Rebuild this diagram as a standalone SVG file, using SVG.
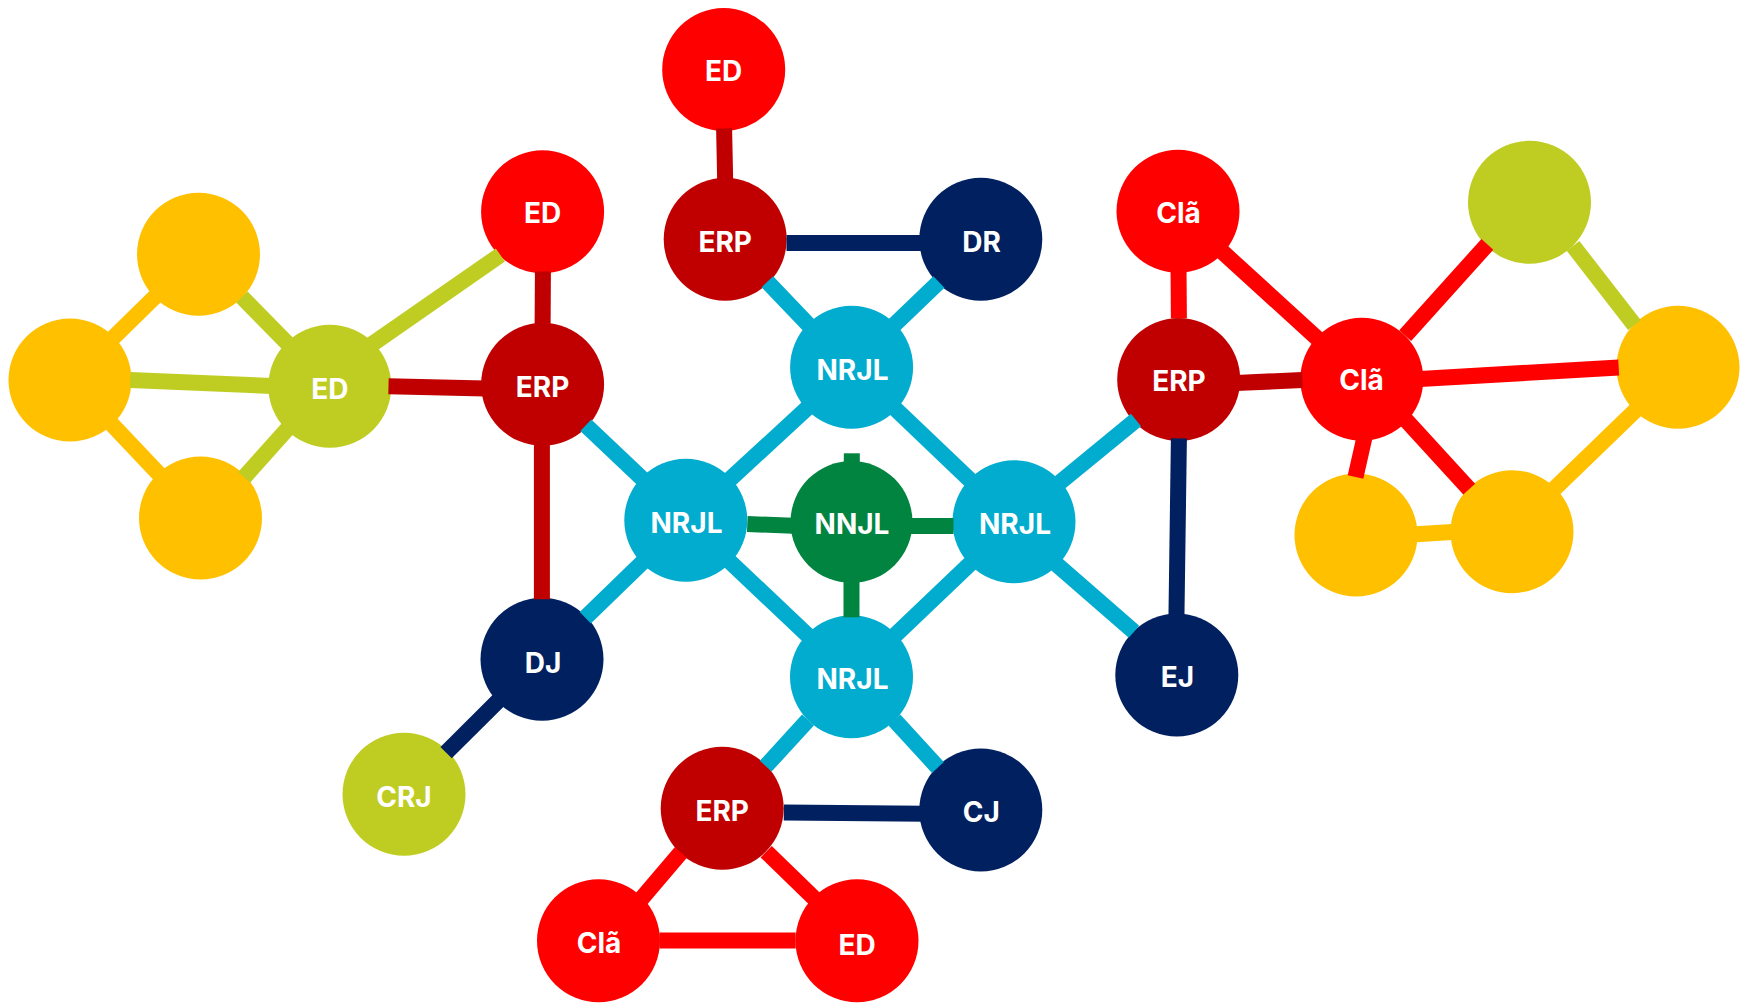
<svg xmlns="http://www.w3.org/2000/svg" width="1740" height="1003" viewBox="0 0 1740 1003">
<style>
.n{stroke:none}
.red{fill:#FF0000}.dred{fill:#C00000}.navy{fill:#002060}.cyan{fill:#01ACCF}.olive{fill:#BFCD23}.grn{fill:#00843F}.yel{fill:#FFC000}
.t{font-family:Inter,"Open Sans","Liberation Sans",sans-serif;font-weight:700;font-size:28px;fill:#FFFFFF;text-anchor:middle}
#connectors line{stroke-width:16;stroke-linecap:butt;fill:none}
.sred{stroke:#FF0000}.sdred{stroke:#C00000}.snavy{stroke:#002060}.scyan{stroke:#01ACCF}.solive{stroke:#BFCD23}.sgrn{stroke:#00843F}.syel{stroke:#FFC000}
</style>
<rect width="1740" height="1003" fill="#FFFFFF"/>
<g id="nodes">
<g id="n-ed-top"><circle class="n red" cx="723.7" cy="69.5" r="61.5"/><text class="t" x="723.7" y="81">ED</text></g>
<g id="n-erp-top"><circle class="n dred" cx="725.2" cy="239.3" r="61.5"/><text class="t" x="725.2" y="252">ERP</text></g>
<g id="n-dr"><circle class="n navy" cx="980.8" cy="239.3" r="61.5"/><text class="t" x="981.5" y="252">DR</text></g>
<g id="n-nrjl-top"><circle class="n cyan" cx="851.6" cy="367.2" r="61.5"/><text class="t" x="852.5" y="380">NRJL</text></g>
<g id="n-ed-left"><circle class="n red" cx="542.6" cy="211.7" r="61.5"/><text class="t" x="542.6" y="223">ED</text></g>
<g id="n-erp-left"><circle class="n dred" cx="542.6" cy="384.3" r="61.5"/><text class="t" x="542.6" y="397">ERP</text></g>
<g id="n-ed-olive"><circle class="n olive" cx="329.8" cy="386.2" r="61.5"/><text class="t" x="329.8" y="399">ED</text></g>
<g id="n-yellow-1"><circle class="n yel" cx="198.5" cy="254.3" r="61.5"/></g>
<g id="n-yellow-2"><circle class="n yel" cx="70" cy="380" r="61.5"/></g>
<g id="n-yellow-3"><circle class="n yel" cx="200.5" cy="518" r="61.5"/></g>
<g id="n-nrjl-left"><circle class="n cyan" cx="685.8" cy="520.2" r="61.5"/><text class="t" x="686.5" y="533">NRJL</text></g>
<g id="n-nnjl"><circle class="n grn" cx="851.5" cy="522" r="61"/><text class="t" x="852" y="534">NNJL</text></g>
<g id="n-nrjl-right"><circle class="n cyan" cx="1014" cy="521.7" r="61.5"/><text class="t" x="1015" y="534">NRJL</text></g>
<g id="n-nrjl-bottom"><circle class="n cyan" cx="851.5" cy="676.7" r="61.5"/><text class="t" x="852.5" y="689">NRJL</text></g>
<g id="n-dj"><circle class="n navy" cx="542" cy="659.2" r="61.5"/><text class="t" x="543" y="672.5">DJ</text></g>
<g id="n-crj"><circle class="n olive" cx="404" cy="794.3" r="61.5"/><text class="t" x="404" y="807">CRJ</text></g>
<g id="n-erp-bottom"><circle class="n dred" cx="722.2" cy="808.3" r="61.5"/><text class="t" x="722.2" y="821">ERP</text></g>
<g id="n-cj"><circle class="n navy" cx="980.8" cy="810" r="61.5"/><text class="t" x="981.4" y="822.3">CJ</text></g>
<g id="n-cla-bottom"><circle class="n red" cx="598.5" cy="940.7" r="61.5"/><text class="t" x="599" y="952.7">Clã</text></g>
<g id="n-ed-bottom"><circle class="n red" cx="857" cy="940.7" r="61.5"/><text class="t" x="857" y="954.5">ED</text></g>
<g id="n-ej"><circle class="n navy" cx="1176.8" cy="675" r="61.5"/><text class="t" x="1177.5" y="687.3">EJ</text></g>
<g id="n-erp-right"><circle class="n dred" cx="1178.7" cy="379.5" r="61.5"/><text class="t" x="1179" y="391">ERP</text></g>
<g id="n-cla-top"><circle class="n red" cx="1178" cy="211.2" r="61.5"/><text class="t" x="1178.5" y="223.3">Clã</text></g>
<g id="n-cla-mid"><circle class="n red" cx="1361.8" cy="379.2" r="61.5"/><text class="t" x="1361.6" y="390">Clã</text></g>
<g id="n-olive-right"><circle class="n olive" cx="1529.5" cy="202.3" r="61.5"/></g>
<g id="n-yellow-4"><circle class="n yel" cx="1678" cy="367.2" r="61.5"/></g>
<g id="n-yellow-5"><circle class="n yel" cx="1356" cy="535" r="61.5"/></g>
<g id="n-yellow-6"><circle class="n yel" cx="1512" cy="531.7" r="61.5"/></g>
</g>
<g id="connectors">
<line class="sdred" x1="724.1" y1="128.3" x2="725.2" y2="182"/>
<line class="snavy" x1="786.5" y1="243" x2="925" y2="243"/>
<line class="scyan" x1="767.4" y1="281.7" x2="812" y2="328.5"/>
<line class="scyan" x1="938.9" y1="282" x2="891" y2="328"/>
<line class="scyan" x1="810.4" y1="405.2" x2="727" y2="482"/>
<line class="scyan" x1="892.1" y1="405.8" x2="973.5" y2="483.4"/>
<line class="sgrn" x1="851.8" y1="453.3" x2="851.8" y2="466"/>
<line class="sdred" x1="542.9" y1="271.5" x2="542.6" y2="330"/>
<line class="sdred" x1="388.5" y1="386.3" x2="485" y2="388.5"/>
<line class="solive" x1="370" y1="345.6" x2="500.4" y2="255"/>
<line class="solive" x1="241.9" y1="297" x2="290" y2="346"/>
<line class="solive" x1="130.2" y1="380" x2="272" y2="386"/>
<line class="solive" x1="244.1" y1="477.3" x2="290" y2="426"/>
<line class="syel" x1="158.5" y1="293.4" x2="110" y2="340.9"/>
<line class="syel" x1="108.5" y1="420.7" x2="162" y2="477.3"/>
<line class="sdred" x1="541.9" y1="442" x2="541.9" y2="599.3"/>
<line class="scyan" x1="585.8" y1="425.2" x2="645.2" y2="481.5"/>
<line class="scyan" x1="645.6" y1="559.2" x2="585.3" y2="617.7"/>
<line class="sgrn" x1="747.3" y1="524" x2="793" y2="525.8"/>
<line class="sgrn" x1="910" y1="526" x2="953.5" y2="526"/>
<line class="sgrn" x1="851.5" y1="580" x2="851.5" y2="617.3"/>
<line class="scyan" x1="726.5" y1="558.5" x2="810.8" y2="638.2"/>
<line class="scyan" x1="973.4" y1="560.6" x2="892.1" y2="638.1"/>
<line class="scyan" x1="1056.3" y1="485.4" x2="1136" y2="420"/>
<line class="scyan" x1="1050" y1="558.6" x2="1134" y2="631.7"/>
<line class="snavy" x1="500" y1="699" x2="446.1" y2="752.7"/>
<line class="scyan" x1="808" y1="720" x2="765.7" y2="766.2"/>
<line class="scyan" x1="894.4" y1="720" x2="937.9" y2="767.5"/>
<line class="snavy" x1="783.8" y1="812.5" x2="925" y2="813.7"/>
<line class="sred" x1="680.8" y1="852.5" x2="637" y2="904"/>
<line class="sred" x1="766.2" y1="851.7" x2="818" y2="902"/>
<line class="sred" x1="659.5" y1="940.5" x2="795.7" y2="940.5"/>
<line class="sred" x1="1178.5" y1="265" x2="1178.9" y2="318.3"/>
<line class="sdred" x1="1236" y1="383" x2="1302.4" y2="380"/>
<line class="snavy" x1="1178.9" y1="438.3" x2="1176.4" y2="620"/>
<line class="sred" x1="1219.3" y1="249" x2="1320.5" y2="341.4"/>
<line class="sred" x1="1405.2" y1="335.7" x2="1487.4" y2="244.3"/>
<line class="sred" x1="1420" y1="379" x2="1618.7" y2="367.5"/>
<line class="sred" x1="1365" y1="435" x2="1355.5" y2="477"/>
<line class="sred" x1="1404" y1="417.8" x2="1469.2" y2="489.2"/>
<line class="solive" x1="1573" y1="245.8" x2="1634.4" y2="325"/>
<line class="syel" x1="1640" y1="406" x2="1550" y2="493"/>
<line class="syel" x1="1412" y1="534.5" x2="1456" y2="531.8"/>
</g>
</svg>
